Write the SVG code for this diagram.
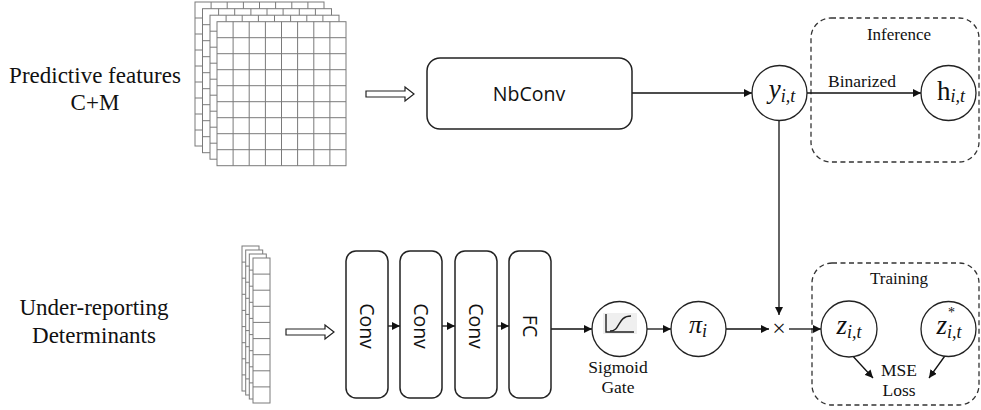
<svg xmlns="http://www.w3.org/2000/svg" xmlns:xlink="http://www.w3.org/1999/xlink" width="981" height="410" viewBox="0 0 981 410">
<style>
  .box { fill: #fff; stroke: #222; stroke-width: 1.5; }
  .circ { fill: #fff; stroke: #222; stroke-width: 1.3; }
  .dash { fill: none; stroke: #333; stroke-width: 1.3; stroke-dasharray: 5 3.5; }
  .gl { stroke: #7a7a7a; stroke-width: 1; fill: none; }
  .gr { fill: #fff; stroke: #7a7a7a; stroke-width: 1; }
  .conn { stroke: #111; stroke-width: 1.3; fill: none; }
  .hollow { fill: #fff; stroke: #222; stroke-width: 1.2; }
  .serif { font-family: "Liberation Serif", "Times New Roman", serif; fill: #111; }
  .sans { font-family: "Open Sans", "Noto Sans", "DejaVu Sans", sans-serif; fill: #111; }
  .math { font-family: "Liberation Serif", "DejaVu Serif", serif; font-style: italic; fill: #111; }
</style>
<defs>
  <marker id="ah" viewBox="0 0 10 10" refX="10" refY="5" markerWidth="8" markerHeight="8" markerUnits="userSpaceOnUse" orient="auto">
    <path d="M0,0 L10,5 L0,10 z" fill="#111"/>
  </marker>
  <g id="bigGrid">
    <rect class="gr" x="0" y="0" width="129" height="144"/>
    <path class="gl" d="M16.1,0V144M32.2,0V144M48.4,0V144M64.5,0V144M80.6,0V144M96.8,0V144M112.9,0V144M0,16H129M0,32H129M0,48H129M0,64H129M0,80H129M0,96H129M0,112H129M0,128H129"/>
  </g>
  <g id="smallGrid">
    <rect class="gr" x="0" y="0" width="17" height="145"/>
    <path class="gl" d="M0,16.1H17M0,32.2H17M0,48.3H17M0,64.4H17M0,80.6H17M0,96.7H17M0,112.8H17M0,128.9H17"/>
  </g>
</defs>

<g id="label-predictive">
  <text class="serif" x="95" y="83" font-size="23" text-anchor="middle">Predictive features</text>
  <text class="serif" x="95" y="110" font-size="23" text-anchor="middle">C+M</text>
</g>
<g id="label-underreporting">
  <text class="serif" x="94" y="315" font-size="23" text-anchor="middle">Under-reporting</text>
  <text class="serif" x="94" y="343" font-size="23" text-anchor="middle">Determinants</text>
</g>

<g id="predictive-grid">
  <use xlink:href="#bigGrid" transform="translate(195,2)"/>
  <use xlink:href="#bigGrid" transform="translate(202.5,8.7)"/>
  <use xlink:href="#bigGrid" transform="translate(210,15.2)"/>
  <use xlink:href="#bigGrid" transform="translate(217,21.7)"/>
</g>
<g id="determinant-grid">
  <use xlink:href="#smallGrid" transform="translate(242,246)"/>
  <use xlink:href="#smallGrid" transform="translate(245.7,250)"/>
  <use xlink:href="#smallGrid" transform="translate(249.3,254)"/>
  <use xlink:href="#smallGrid" transform="translate(253,258)"/>
</g>

<g id="hollow-arrows">
  <polygon class="hollow" points="366,91 405,91 405,87 414,94 405,101 405,97 366,97"/>
  <polygon class="hollow" points="286,329 325,329 325,325 334,332 325,339 325,335 286,335"/>
</g>

<g id="inference-region">
  <rect class="dash" x="811" y="18" width="168" height="144" rx="20"/>
  <text class="serif" x="899" y="40" font-size="17" text-anchor="middle">Inference</text>
</g>
<g id="training-region">
  <rect class="dash" x="812" y="263" width="167" height="142" rx="20"/>
  <text class="serif" x="899" y="284" font-size="17" text-anchor="middle">Training</text>
</g>

<g id="connectors">
  <line class="conn" x1="632" y1="93" x2="752" y2="93" marker-end="url(#ah)"/>
  <line class="conn" x1="807" y1="93" x2="921" y2="93" marker-end="url(#ah)"/>
  <line class="conn" x1="779" y1="120" x2="779" y2="315" marker-end="url(#ah)"/>
  <line class="conn" x1="388" y1="326" x2="400" y2="326" marker-end="url(#ah)"/>
  <line class="conn" x1="442" y1="326" x2="455" y2="326" marker-end="url(#ah)"/>
  <line class="conn" x1="497" y1="326" x2="509" y2="326" marker-end="url(#ah)"/>
  <line class="conn" x1="551" y1="329" x2="592" y2="329" marker-end="url(#ah)"/>
  <line class="conn" x1="647" y1="329" x2="671" y2="329" marker-end="url(#ah)"/>
  <line class="conn" x1="726" y1="329" x2="769" y2="329" marker-end="url(#ah)"/>
  <line class="conn" x1="789" y1="329" x2="821" y2="329" marker-end="url(#ah)"/>
  <line class="conn" x1="850" y1="353" x2="873" y2="378" marker-end="url(#ah)"/>
  <line class="conn" x1="947" y1="353" x2="929" y2="378" marker-end="url(#ah)"/>
  <text class="serif" x="828" y="87" font-size="17.5">Binarized</text>
  <text class="serif" x="779" y="336" font-size="24" text-anchor="middle">×</text>
</g>

<g id="nbconv">
  <rect class="box" x="427" y="58" width="205" height="71" rx="13"/>
  <text class="sans" x="529" y="101" font-size="19.5" text-anchor="middle">NbConv</text>
</g>

<g id="conv1">
  <rect class="box" x="346" y="251" width="42" height="147" rx="10"/>
  <text class="sans" transform="translate(367,326) rotate(90)" x="0" y="7" font-size="19.5" text-anchor="middle">Conv</text>
</g>
<g id="conv2">
  <rect class="box" x="400" y="251" width="42" height="147" rx="10"/>
  <text class="sans" transform="translate(421,326) rotate(90)" x="0" y="7" font-size="19.5" text-anchor="middle">Conv</text>
</g>
<g id="conv3">
  <rect class="box" x="455" y="251" width="42" height="147" rx="10"/>
  <text class="sans" transform="translate(476,326) rotate(90)" x="0" y="7" font-size="19.5" text-anchor="middle">Conv</text>
</g>
<g id="fc">
  <rect class="box" x="509" y="251" width="42" height="147" rx="10"/>
  <text class="sans" transform="translate(530,326) rotate(90)" x="0" y="7" font-size="19.5" text-anchor="middle">FC</text>
</g>

<g id="sigmoid-gate">
  <circle class="circ" cx="619.5" cy="329" r="27.5"/>
  <rect x="603" y="313" width="34" height="21" fill="#efefef"/>
  <path d="M606,314 V332 H634" fill="none" stroke="#222" stroke-width="1.4"/>
  <path d="M610,331 C621,331 617,316 631,316" fill="none" stroke="#222" stroke-width="1.4"/>
  <text class="serif" x="618" y="373" font-size="17.5" text-anchor="middle">Sigmoid</text>
  <text class="serif" x="618" y="393" font-size="17.5" text-anchor="middle">Gate</text>
</g>

<g id="pi">
  <circle class="circ" cx="698.5" cy="329" r="27.5"/>
  <text class="math" x="698" y="333" text-anchor="middle"><tspan font-size="26">π</tspan><tspan font-size="18" dy="4">i</tspan></text>
</g>

<g id="y">
  <circle class="circ" cx="779.5" cy="93" r="27.5"/>
  <text class="math" x="782" y="98" text-anchor="middle"><tspan font-size="27">y</tspan><tspan font-size="18" dy="4">i,t</tspan></text>
</g>

<g id="h">
  <circle class="circ" cx="948.5" cy="93" r="27.5"/>
  <text class="math" x="951" y="100" text-anchor="middle"><tspan font-size="27" font-style="normal">h</tspan><tspan font-size="18" dy="2">i,t</tspan></text>
</g>

<g id="z">
  <circle class="circ" cx="849" cy="329" r="28"/>
  <text class="math" x="849" y="334" text-anchor="middle"><tspan font-size="27">z</tspan><tspan font-size="18" dy="4">i,t</tspan></text>
</g>

<g id="z-star">
  <circle class="circ" cx="948.5" cy="329" r="27.5"/>
  <text class="math" x="949" y="334" text-anchor="middle"><tspan font-size="27">z</tspan><tspan font-size="14" font-style="normal" dx="1" dy="-17">*</tspan><tspan font-size="18" dx="-8" dy="21">i,t</tspan></text>
</g>

<g id="mse-loss">
  <text class="serif" x="899" y="376" font-size="17.5" text-anchor="middle">MSE</text>
  <text class="serif" x="899" y="396" font-size="17.5" text-anchor="middle">Loss</text>
</g>
</svg>
